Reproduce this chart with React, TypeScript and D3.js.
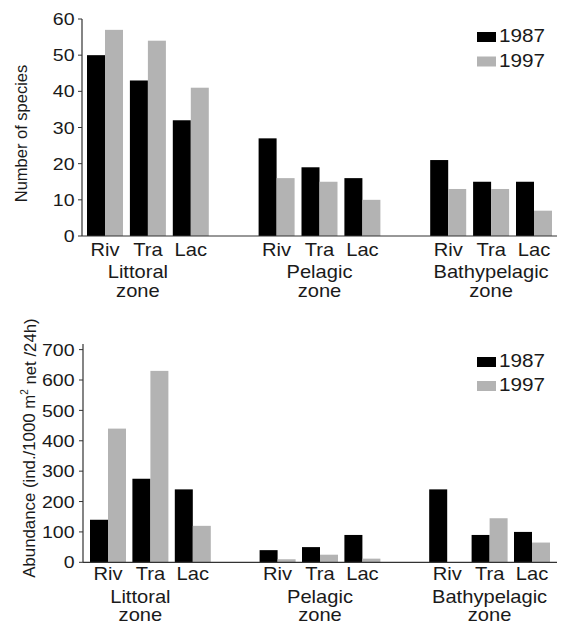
import React from "react";
import * as d3 from "d3";

const zones = ["Littoral", "Pelagic", "Bathypelagic"];
const sites = ["Riv", "Tra", "Lac"];
const years = ["1987", "1997"];
const species1987 = [50, 43, 32, 27, 19, 16, 21, 15, 15];
const species1997 = [57, 54, 41, 16, 15, 10, 13, 13, 7];
const abundance1987 = [140, 275, 240, 40, 50, 90, 240, 90, 100];
const abundance1997 = [440, 630, 120, 10, 25, 12, 0, 145, 65];
const speciesTicks = [0, 10, 20, 30, 40, 50, 60];
const abundanceTicks = [0, 100, 200, 300, 400, 500, 600, 700];

const FONT = "'Liberation Sans', Arial, Helvetica, sans-serif";
const TXT = "#1a1a1a";
const COLORS = ["#000000", "#b3b3b3"];
const SX = 1.15;

function T({ x, y, size, anchor = "middle", dy, children }: any) {
  return (
    <text
      transform={`translate(${x},${y}) scale(${SX},1)`}
      textAnchor={anchor}
      fontSize={size}
      fontFamily={FONT}
      fill={TXT}
      dy={dy}
    >
      {children}
    </text>
  );
}

function Panel({ v1, v2, ticks, cfg, ylabel }: any) {
  const y = d3.scaleLinear().domain(cfg.yDomain).range([cfg.y0, cfg.yTop]);
  const x = d3.scaleLinear().domain([0, 10]).range([cfg.xFirst, cfg.xLast]);
  const bw = 18;
  const slots = zones.flatMap((z, zi) => sites.map((s, si) => ({ z, zi, s, si, slot: zi * 4 + si })));
  return (
    <g>
      {slots.map((d, i) => (
        <g key={i}>
          <rect x={x(d.slot)} y={y(v1[i])} width={bw} height={cfg.y0 - y(v1[i])} fill={COLORS[0]} />
          <rect x={x(d.slot) + bw} y={y(v2[i])} width={bw} height={cfg.y0 - y(v2[i])} fill={COLORS[1]} />
          <T x={x(d.slot) + bw} y={cfg.catBase} size={17.5}>{d.s}</T>
        </g>
      ))}
      {zones.map((z, zi) => {
        const cx = x(zi * 4 + 1) + bw + (zi === 0 ? -10 : 0);
        return (
          <g key={z}>
            <T x={cx} y={cfg.zoneBase1} size={17.5}>{z}</T>
            <T x={cx} y={cfg.zoneBase2} size={17.5}>zone</T>
          </g>
        );
      })}
      <line x1={cfg.axisX} x2={cfg.axisX} y1={cfg.y0} y2={cfg.axisTop} stroke="#333" strokeWidth={1.2} />
      <line x1={cfg.axisX} x2={557} y1={cfg.y0} y2={cfg.y0} stroke="#333" strokeWidth={1.2} />
      {ticks.map((t: number) => (
        <g key={t}>
          <line x1={cfg.axisX - 4} x2={cfg.axisX} y1={y(t)} y2={y(t)} stroke="#333" strokeWidth={1} />
          <T x={74.5} y={y(t)} size={17} anchor="end" dy="0.36em">{t}</T>
        </g>
      ))}
      {years.map((yr, i) => (
        <g key={yr}>
          <rect x={477} y={cfg.legBase[i] - 10} width={19} height={10} fill={COLORS[i]} />
          <T x={499} y={cfg.legBase[i]} size={18} anchor="start">{yr}</T>
        </g>
      ))}
      {ylabel}
    </g>
  );
}

export default function App() {
  const topCfg = {
    yDomain: [0, 60], y0: 236, yTop: 19, axisTop: 19, axisX: 82,
    xFirst: 87, xLast: 516, catBase: 256, zoneBase1: 277.5, zoneBase2: 297,
    legBase: [42, 66.5],
  };
  const botCfg = {
    yDomain: [0, 600], y0: 562.3, yTop: 380, axisTop: 344, axisX: 83,
    xFirst: 90, xLast: 514, catBase: 580, zoneBase1: 603, zoneBase2: 621,
    legBase: [367, 391],
  };
  return (
    <svg width={565} height={624} style={{ position: "absolute", left: 0, top: 0, background: "#fff" }}>
      <rect width={565} height={624} fill="#fff" />
      <Panel
        v1={species1987}
        v2={species1997}
        ticks={speciesTicks}
        cfg={topCfg}
        ylabel={
          <text transform="translate(21,133.5) rotate(-90)" textAnchor="middle" dominantBaseline="central"
            fontSize={16.5} fontFamily={FONT} fill={TXT}>Number of species</text>
        }
      />
      <Panel
        v1={abundance1987}
        v2={abundance1997}
        ticks={abundanceTicks}
        cfg={botCfg}
        ylabel={
          <text transform="translate(29.5,448) rotate(-90)" textAnchor="middle" dominantBaseline="central"
            fontSize={16.8} fontFamily={FONT} fill={TXT}>
            Abundance (ind./1000 m<tspan fontSize={10} dy={-6}>2</tspan><tspan dy={6}> net /24h)</tspan>
          </text>
        }
      />
    </svg>
  );
}
